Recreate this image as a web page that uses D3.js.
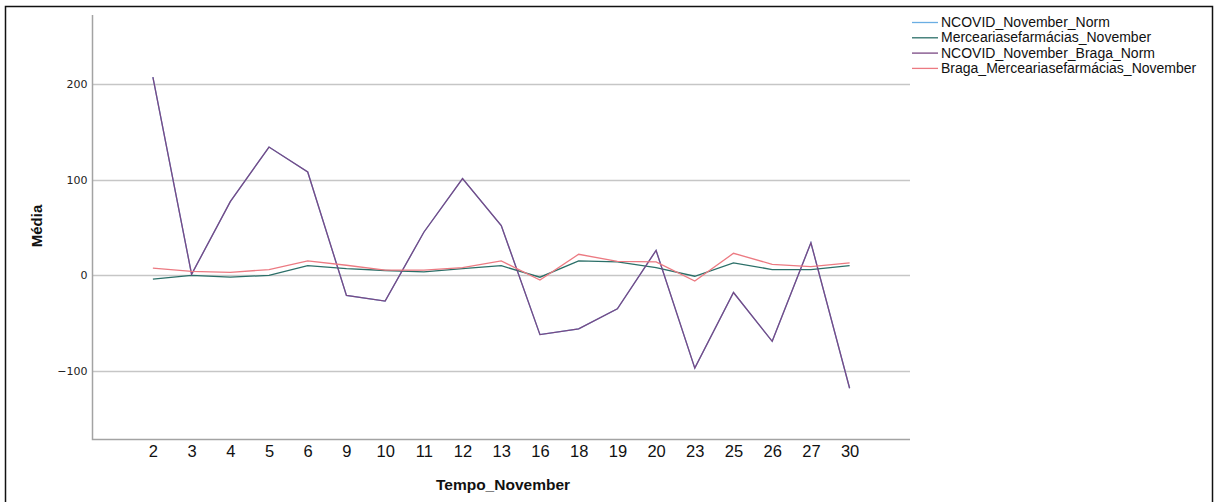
<!DOCTYPE html>
<html>
<head>
<meta charset="utf-8">
<script src="https://cdn.jsdelivr.net/npm/d3@7"></script>
<style>
  html, body { margin: 0; padding: 0; background: #fff; }
  svg { display: block; }
</style>
</head>
<body>
<svg id="chart" width="1214" height="502"></svg>
<script>
// Days of November shown on the category axis
const days = ["2", "3", "4", "5", "6", "9", "10", "11", "12", "13", "16", "18", "19", "20", "23", "25", "26", "27", "30"];

// Mean values per day for each series
const ncovidNorm = [207, 1, 77, 134, 108, -21, -27, 45, 101, 52, -62, -56, -35, 26, -97, -18, -69, 34, -118];
const merceariasNov = [-4, 0, -2, 0, 10, 7, 5, 3.5, 7, 10, -2, 15, 14, 8, -1, 13, 6, 6, 10];
const ncovidBragaNorm = [207, 1, 77, 134, 108, -21, -27, 45, 101, 52, -62, -56, -35, 26, -97, -18, -69, 34, -118];
const bragaMerceariasNov = [7.5, 4, 3, 6, 15, 10.5, 5.5, 5.5, 8, 15, -5, 22, 14.5, 14, -6, 23, 11.5, 9, 13];

const seriesNames = ["NCOVID_November_Norm", "Merceariasefarmácias_November", "NCOVID_November_Braga_Norm", "Braga_Merceariasefarmácias_November"];
const seriesColors = ["#6aaee3", "#2b6f68", "#7a4883", "#ec7a82"];
const yTicks = [-100, 0, 100, 200];

const series = [ncovidNorm, merceariasNov, ncovidBragaNorm, bragaMerceariasNov].map((vals, i) => ({
  name: seriesNames[i],
  color: seriesColors[i],
  values: vals.map((v, j) => ({ day: days[j], value: v }))
}));

const svg = d3.select("#chart");

// Outer frame
svg.append("rect")
  .attr("x", 5.5).attr("y", 6.5)
  .attr("width", 1207).attr("height", 500)
  .attr("fill", "none").attr("stroke", "#111").attr("stroke-width", 1.5);

const plot = { left: 92.5, right: 910, top: 15, bottom: 439.5 };

const x = d3.scalePoint()
  .domain(days)
  .range([plot.left, plot.right])
  .padding(1.56);

const y = d3.scaleLinear()
  .domain([-171.6, 272])
  .range([plot.bottom, plot.top]);

// Horizontal gridlines
svg.append("g")
  .selectAll("line")
  .data(yTicks)
  .join("line")
  .attr("x1", plot.left).attr("x2", plot.right)
  .attr("y1", d => Math.round(y(d)) + 0.5).attr("y2", d => Math.round(y(d)) + 0.5)
  .attr("stroke", "#c6c6c6").attr("stroke-width", 1.3);

// Y axis
const yAxis = svg.append("g")
  .attr("transform", `translate(${plot.left},0)`)
  .call(d3.axisLeft(y).tickValues(yTicks).tickSize(0).tickPadding(5).tickFormat(d3.format("d")));
yAxis.select(".domain").remove();
yAxis.selectAll("text")
  .attr("font-family", "'DejaVu Sans', sans-serif")
  .attr("font-size", 11)
  .attr("fill", "#222");

// X axis
const xAxis = svg.append("g")
  .attr("transform", `translate(0,${plot.bottom})`)
  .call(d3.axisBottom(x).tickSize(0).tickPadding(6));
xAxis.select(".domain").remove();
xAxis.selectAll("text")
  .attr("font-family", "'Liberation Sans Narrow', 'Liberation Sans', sans-serif")
  .attr("font-size", 16.5)
  .attr("fill", "#111");

// Axis lines
svg.append("path")
  .attr("d", `M${plot.left},${plot.top}V${plot.bottom}H${plot.right}`)
  .attr("fill", "none").attr("stroke", "#a3a3a3").attr("stroke-width", 1.5);

// Axis titles
svg.append("text")
  .attr("transform", `translate(42,226) rotate(-90)`)
  .attr("text-anchor", "middle")
  .attr("font-family", "'Liberation Sans', Arial, sans-serif")
  .attr("font-weight", "bold")
  .attr("font-size", 15)
  .attr("fill", "#111")
  .text("Média");

svg.append("text")
  .attr("x", 503).attr("y", 490)
  .attr("text-anchor", "middle")
  .attr("font-family", "'Liberation Sans', Arial, sans-serif")
  .attr("font-weight", "bold")
  .attr("font-size", 15.5)
  .attr("fill", "#111")
  .text("Tempo_November");

// Series lines
const line = d3.line()
  .x(d => x(d.day))
  .y(d => y(d.value));

svg.append("g")
  .selectAll("path")
  .data(series)
  .join("path")
  .attr("d", d => line(d.values))
  .attr("fill", "none")
  .attr("stroke", d => d.color)
  .attr("stroke-width", 1.3)
  .attr("stroke-linejoin", "miter");

// Legend
const legend = svg.append("g").attr("transform", "translate(912,22)");
const item = legend.selectAll("g")
  .data(series)
  .join("g")
  .attr("transform", (d, i) => `translate(0,${i * 15.3})`);
item.append("line")
  .attr("x1", 0).attr("x2", 26)
  .attr("y1", 0.5).attr("y2", 0.5)
  .attr("stroke", d => d.color).attr("stroke-width", 1.3);
item.append("text")
  .attr("x", 29).attr("y", 5)
  .attr("font-family", "'Liberation Sans', Arial, sans-serif")
  .attr("font-size", 14)
  .attr("fill", "#111")
  .text(d => d.name);
</script>
</body>
</html>
